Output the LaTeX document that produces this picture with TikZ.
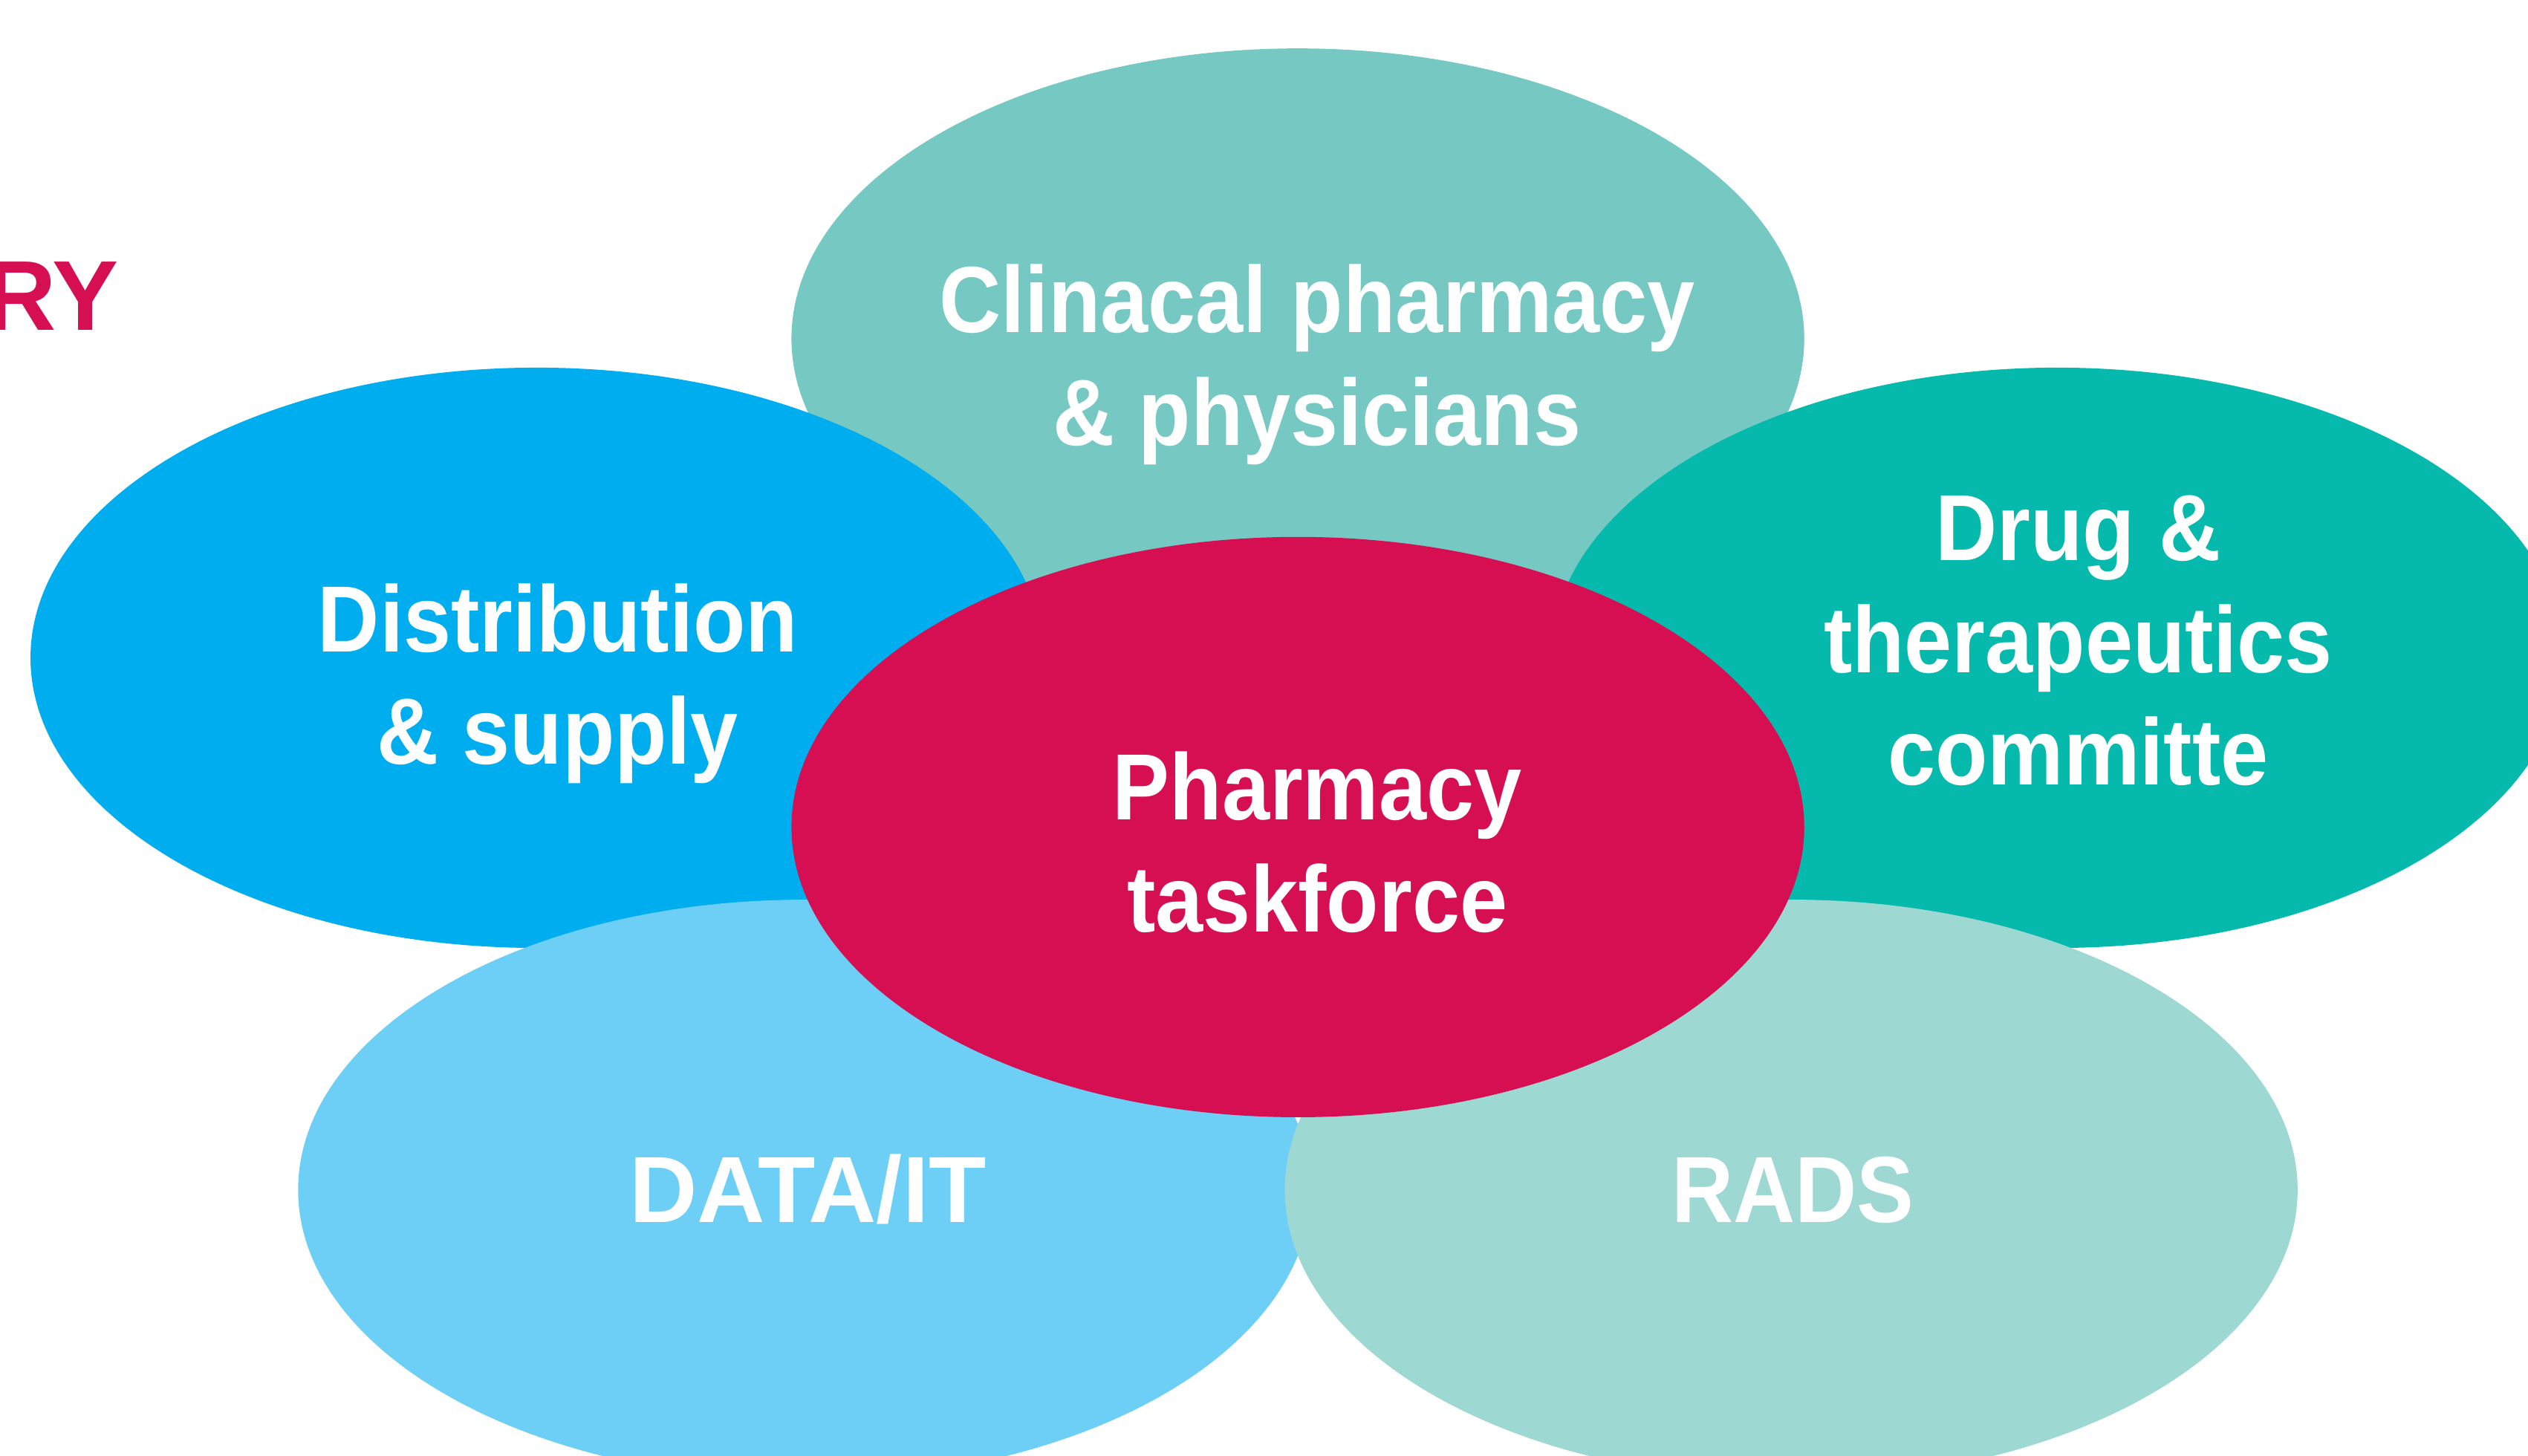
\documentclass[tikz,border=0pt]{standalone}
\usepackage{fontspec}
\setmainfont{Liberation Sans}[FakeStretch=0.91]
\newfontfamily\headfont{Liberation Sans}
\usetikzlibrary{shapes.geometric}
\definecolor{clinteal}{HTML}{76C9C2}
\definecolor{distblue}{HTML}{00AEEF}
\definecolor{drugteal}{HTML}{05B9AD}
\definecolor{coretone}{HTML}{D50F51}
\definecolor{datablue}{HTML}{6DCFF6}
\definecolor{radsteal}{HTML}{9ED8D3}
\tikzset{
	x=0.021703cm, y=-0.021703cm, % one unit is one pixel of the slide
	bubble/.style={ellipse, inner sep=0pt, minimum width=13.63cm, minimum height=7.81cm}, % the coloured ovals
	caption/.style={anchor=base, align=center, text=white, font=\fontsize{36}{43}\selectfont\bfseries}, % white text in the ovals, placed by its last line
}

\begin{document}
\begin{tikzpicture}
	\useasboundingbox (0,0) rectangle (1568,903);
	% ovals, back to front
	\node[bubble, fill=clinteal] (clin) at (805,210) {};
	\node[bubble, fill=distblue] (dist) at (333,408) {};
	\node[bubble, fill=drugteal] (drug) at (1276,408) {};
	\node[bubble, fill=datablue] (data) at (499,738) {};
	\node[bubble, fill=radsteal] (rads) at (1111,738) {};
	\node[bubble, fill=coretone] (core) at (805,513) {};
	% texts
	\node[caption] (clintext) at (817,276) {Clinacal pharmacy\\\& physicians};
	\node[caption] (disttext) at (346,474) {Distribution\\\& supply};
	\node[caption] (drugtext) at (1289,487) {Drug \&\\therapeutics\\committe};
	\node[caption] (coretext) at (817,578) {Pharmacy\\taskforce};
	\node[caption, font=\headfont\fontsize{36}{43}\selectfont\bfseries] (datatext) at (501,758) {DATA/IT};
	\node[caption] (radstext) at (1112,758) {RADS};
	\node[anchor=base east, inner sep=0pt, text=coretone, font=\headfont\fontsize{38}{38}\selectfont\bfseries] (title) at (74,205) {RY};
\end{tikzpicture}
\end{document}
